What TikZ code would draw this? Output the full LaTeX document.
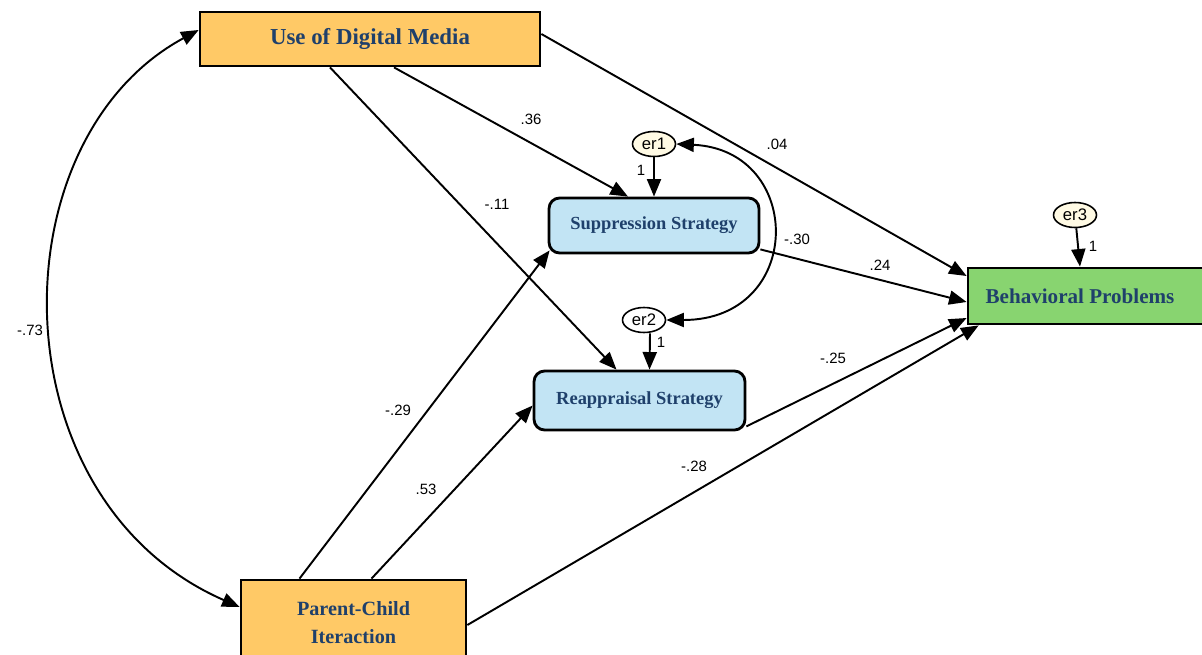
\documentclass[tikz,border=0pt]{standalone}
\usepackage{fontspec}
\setmainfont{Liberation Serif}
\setsansfont{Liberation Sans}
\usetikzlibrary{arrows.meta, calc, shapes.geometric}

\definecolor{boxtext}{RGB}{31,64,107}
\definecolor{mediaorange}{RGB}{255,201,102}
\definecolor{stratblue}{RGB}{194,228,244}
\definecolor{probgreen}{RGB}{136,212,112}
\definecolor{errcream}{RGB}{255,250,228}

\begin{document}
\begin{tikzpicture}[
  x=0.02cm, y=-0.02cm,
  font=\sffamily\footnotesize,
  var/.style={draw, line width=1.6pt, align=center, inner sep=0pt,
    text=boxtext, font=\rmfamily\bfseries},
  exo/.style={var, fill=mediaorange},
  strat/.style={var, fill=stratblue, rounded corners=6pt,
    minimum width=4.2cm, minimum height=1.1cm,
    font=\rmfamily\bfseries\fontsize{10.5}{12}\selectfont},
  err/.style={draw, line width=0.9pt, ellipse, minimum width=0.86cm, minimum height=0.5cm,
    inner sep=0pt, font=\sffamily\fontsize{9.5}{10}\selectfont},
  coef/.style={font=\sffamily\fontsize{8.5}{9}\selectfont},
  arrow/.style={-{Triangle[length=10pt, width=8pt]}, line width=1.1pt},
  cov/.style={{Triangle[length=10pt, width=8pt]}-{Triangle[length=10pt, width=8pt]},
    line width=1.1pt},
]
  \useasboundingbox (0,0) rectangle (1202,655);
  \clip (0,0) rectangle (1202,655);

  % Observed variables
  \node[exo, minimum width=6.8cm, minimum height=1.08cm,
    font=\rmfamily\bfseries\fontsize{13}{15}\selectfont] (udm) at (370,39)
    {Use of Digital Media};
  \node[exo, minimum width=4.5cm, minimum height=1.8cm,
    font=\rmfamily\bfseries\fontsize{11.5}{16}\selectfont] (pci) at (353.5,625)
    {\raisebox{0.1cm}{Parent-Child}\\\raisebox{0.1cm}{Iteraction}};
  \node[strat] (sup) at (654,225.5) {Suppression Strategy};
  \node[strat, minimum width=4.22cm, minimum height=1.18cm] (rea) at (639.5,400.5)
    {Reappraisal Strategy};
  \node[var, fill=probgreen, minimum width=4.8cm, minimum height=1.12cm,
    font=\rmfamily\bfseries\fontsize{12}{14}\selectfont] (beh) at (1088,296)
    {\hspace*{-0.16cm}Behavioral Problems\hspace*{0.16cm}};

  % Error terms
  \node[err, fill=errcream] (er1) at (654,144) {er1};
  \node[err, fill=white] (er2) at (644,320) {er2};
  \node[err, fill=errcream] (er3) at (1075,215) {er3};

  % Regression paths
  \draw[arrow] ($(udm.south)+(24,0)$) -- ($(sup.north)+(-26,0)$);
  \draw[arrow] ($(udm.south)+(-40,0)$) -- ($(rea.north)+(-23,0)$);
  \draw[arrow] ($(udm.east)+(0,-5)$) -- ($(beh.west)+(0,-20)$);
  \draw[arrow] ($(sup.south east)+(0,-5)$) -- ($(beh.west)+(0,6)$);
  \draw[arrow] ($(rea.south east)+(0,-5)$) -- ($(beh.west)+(0,22)$);
  \draw[arrow] (pci.east) -- ($(beh.south west)+(12,0)$);
  \draw[arrow] ($(pci.north)+(-54,0)$) -- ($(sup.south west)+(2,-4)$);
  \draw[arrow] ($(pci.north)+(18,0)$) -- ($(rea.west)+(0,5)$);

  % Error paths
  \draw[arrow] (er1) -- (er1 |- sup.north);
  \draw[arrow] ($(er2.south)+(6,0)$) -- ($(rea.north)+(10,0)$);
  \draw[arrow] (er3) -- ($(beh.north)+(-8,0)$);

  % Covariances
  \draw[cov] ($(udm.west)+(0,-9)$) .. controls (-5,140) and (-5,500) .. ($(pci.west)+(0,-18)$);
  \draw[cov] (er1.east) .. controls (805,150) and (805,320) .. (er2.east);

  % Coefficients
  \node[coef] (c36) at (531,119) {.36};
  \node[coef] (c11) at (497,204) {-.11};
  \node[coef] (c04) at (777,144) {.04};
  \node[coef] (c24) at (880,265) {.24};
  \node[coef] (c30) at (797,239) {-.30};
  \node[coef] (c25) at (833,358) {-.25};
  \node[coef] (c28) at (694,466) {-.28};
  \node[coef] (c29) at (398,410) {-.29};
  \node[coef] (c53) at (426,489) {.53};
  \node[coef] (c73) at (30,330) {-.73};
  \node[coef] (w1) at (641,170) {1};
  \node[coef] (w2) at (661,342) {1};
  \node[coef] (w3) at (1093,246) {1};
\end{tikzpicture}
\end{document}
